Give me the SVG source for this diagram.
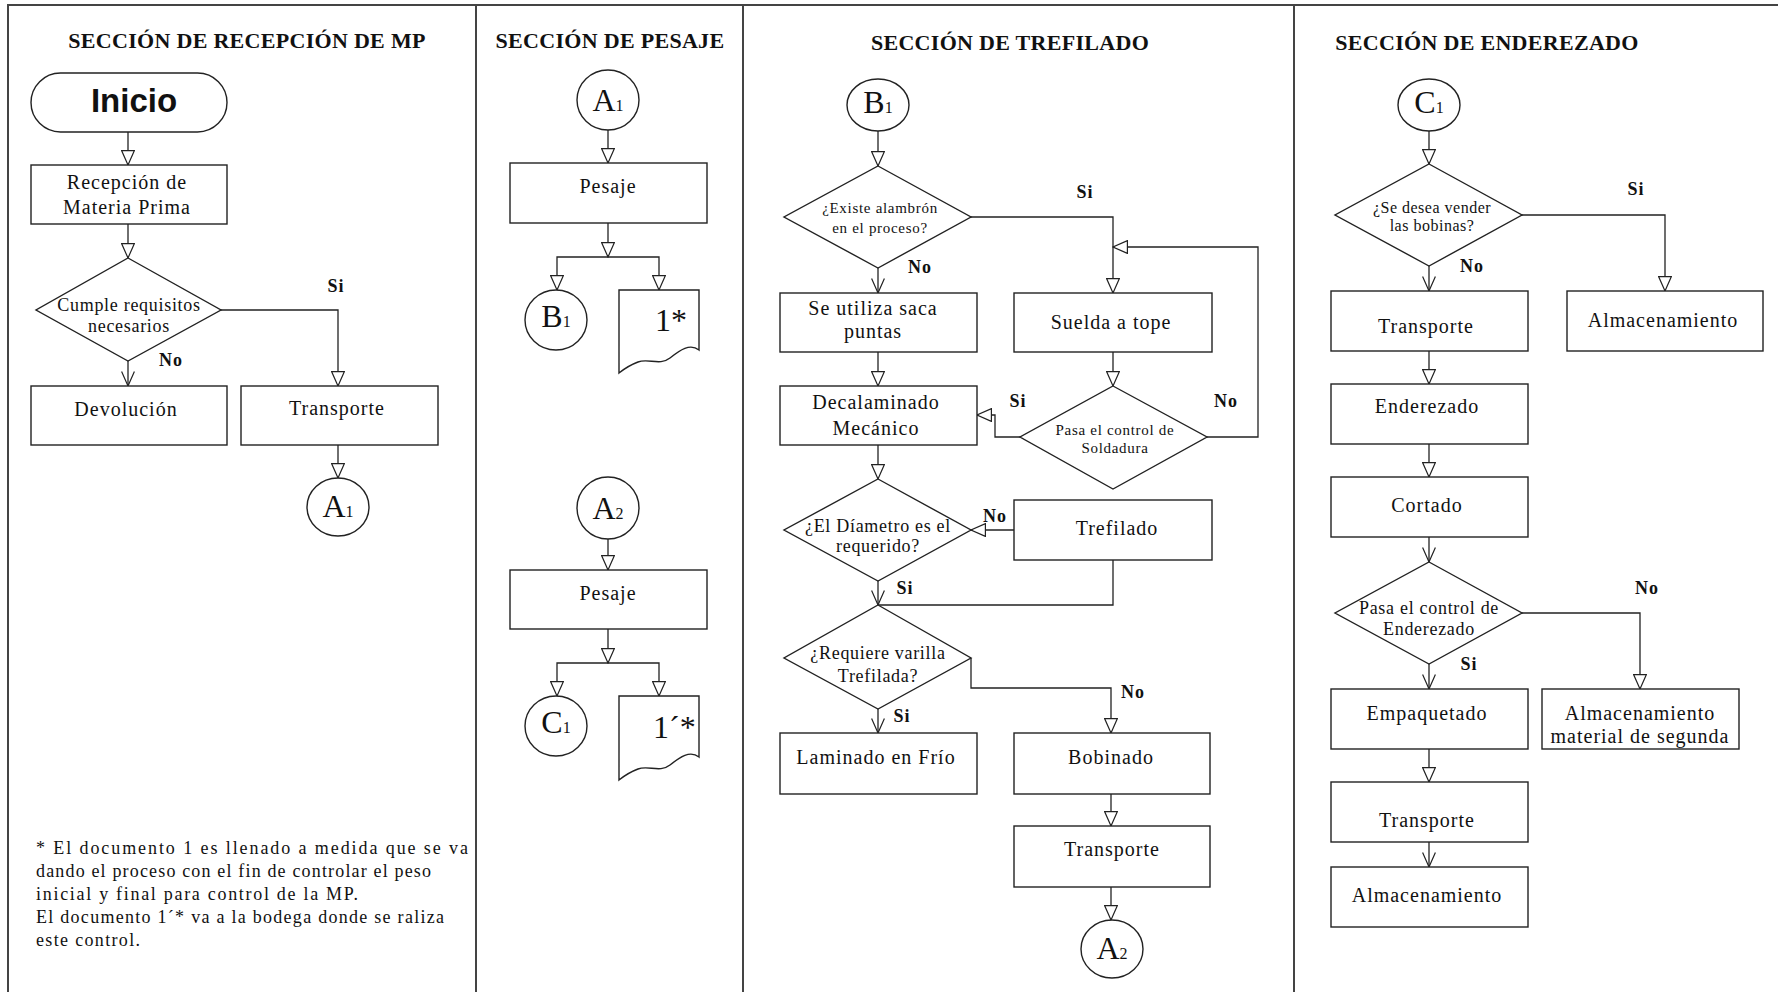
<svg xmlns="http://www.w3.org/2000/svg" width="1778" height="992" viewBox="0 0 1778 992">
  <style>
    .frame { fill: none; stroke: #444; stroke-width: 2; }
    .box { fill: #fff; stroke: #222; stroke-width: 1.4; }
    .ln { fill: none; stroke: #222; stroke-width: 1.3; }
    .arr { marker-end: url(#tri); }
    .vee { marker-end: url(#vee); }
    text { font-family: "Liberation Serif", "Times New Roman", serif; fill: #111; }
    .title { font-size: 22px; font-weight: bold; text-anchor: middle; letter-spacing: 0.3px; }
    .lbl { font-size: 20px; text-anchor: middle; letter-spacing: 1px; }
    .q18 { font-size: 18px; text-anchor: middle; letter-spacing: 0.7px; }
    .q15 { font-size: 15px; text-anchor: middle; letter-spacing: 0.7px; }
    .q16 { font-size: 16px; text-anchor: middle; letter-spacing: 0.5px; }
    .yn { font-size: 18px; font-weight: bold; text-anchor: middle; letter-spacing: 1px; }
    .con { text-anchor: middle; }
    .big { font-size: 32px; }
    .sub { font-size: 16px; }
    .note { font-size: 18px; }
    .start { font-family: "Liberation Sans", Arial, sans-serif; font-size: 33px; font-weight: bold; text-anchor: middle; }
  </style>
  <defs>
    <marker id="tri" viewBox="0 0 16 14" markerWidth="16" markerHeight="14" refX="15" refY="7" orient="auto" markerUnits="userSpaceOnUse">
      <path d="M0.6,0.6 L15,7 L0.6,13.4 Z" fill="#fff" stroke="#222" stroke-width="1.2"/>
    </marker>
    <marker id="vee" viewBox="0 0 16 14" markerWidth="16" markerHeight="14" refX="15" refY="7" orient="auto" markerUnits="userSpaceOnUse">
      <path d="M0.6,0.6 L15,7 L0.6,13.4" fill="none" stroke="#222" stroke-width="1.2"/>
    </marker>
  </defs>

  <rect x="0" y="0" width="1778" height="992" fill="#fff"/>

  <!-- page frame and section dividers -->
  <g id="frame">
    <path class="frame" d="M8,992 V5 H1778"/>
    <path class="frame" d="M476,5 V992 M743,5 V992 M1294,5 V992"/>
  </g>

  <!-- section titles -->
  <g id="titles">
    <text class="title" x="247" y="48">SECCIÓN DE RECEPCIÓN DE MP</text>
    <text class="title" x="610" y="48">SECCIÓN DE PESAJE</text>
    <text class="title" x="1010" y="50">SECCIÓN DE TREFILADO</text>
    <text class="title" x="1487" y="50">SECCIÓN DE ENDEREZADO</text>
  </g>

  <!-- connectors -->
  <g id="connectors">
    <!-- recepción -->
    <path class="ln arr" d="M128,132 V165"/>
    <path class="ln arr" d="M128,224 V258"/>
    <path class="ln vee" d="M128,361 V386"/>
    <path class="ln arr" d="M221,310 H338 V386"/>
    <path class="ln arr" d="M338,445 V478"/>
    <!-- pesaje -->
    <path class="ln arr" d="M608,130 V163"/>
    <path class="ln arr" d="M608,223 V257"/>
    <path class="ln arr" d="M608,257 H557 V290"/>
    <path class="ln arr" d="M608,257 H659 V290"/>
    <path class="ln arr" d="M608,539 V570"/>
    <path class="ln arr" d="M608,629 V663"/>
    <path class="ln arr" d="M608,663 H557 V696"/>
    <path class="ln arr" d="M608,663 H659 V696"/>
    <!-- trefilado -->
    <path class="ln arr" d="M878,131 V166"/>
    <path class="ln vee" d="M878,268 V293"/>
    <path class="ln arr" d="M971,217 H1113 V293"/>
    <path class="ln arr" d="M878,352 V386"/>
    <path class="ln arr" d="M1113,352 V386"/>
    <path class="ln arr" d="M1020,437 H995 V415 H977"/>
    <path class="ln arr" d="M1207,437 H1258 V247 H1113"/>
    <path class="ln arr" d="M878,445 V479"/>
    <path class="ln arr" d="M1014,530 H971"/>
    <path class="ln" d="M1113,560 V605 H878"/>
    <path class="ln vee" d="M878,581 V605"/>
    <path class="ln arr" d="M971,658 V688 H1111 V733"/>
    <path class="ln vee" d="M878,709 V733"/>
    <path class="ln arr" d="M1111,794 V826"/>
    <path class="ln arr" d="M1111,887 V920"/>
    <!-- enderezado -->
    <path class="ln arr" d="M1429,131 V164"/>
    <path class="ln vee" d="M1429,266 V291"/>
    <path class="ln arr" d="M1522,215 H1665 V291"/>
    <path class="ln arr" d="M1429,351 V384"/>
    <path class="ln arr" d="M1429,444 V477"/>
    <path class="ln vee" d="M1429,537 V562"/>
    <path class="ln arr" d="M1522,613 H1640 V689"/>
    <path class="ln vee" d="M1429,664 V689"/>
    <path class="ln arr" d="M1429,749 V782"/>
    <path class="ln vee" d="M1429,842 V867"/>
  </g>

  <!-- branch labels -->
  <g id="branch-labels">
    <text class="yn" x="336" y="292">Si</text>
    <text class="yn" x="171" y="366">No</text>
    <text class="yn" x="1085" y="198">Si</text>
    <text class="yn" x="920" y="273">No</text>
    <text class="yn" x="1018" y="407">Si</text>
    <text class="yn" x="1226" y="407">No</text>
    <text class="yn" x="995" y="522">No</text>
    <text class="yn" x="905" y="594">Si</text>
    <text class="yn" x="1133" y="698">No</text>
    <text class="yn" x="902" y="722">Si</text>
    <text class="yn" x="1636" y="195">Si</text>
    <text class="yn" x="1472" y="272">No</text>
    <text class="yn" x="1647" y="594">No</text>
    <text class="yn" x="1469" y="670">Si</text>
  </g>

  <!-- Sección de recepción de MP -->
  <g id="inicio">
    <rect class="box" x="31" y="73" width="196" height="59" rx="29.5"/>
    <text class="start" x="134" y="112">Inicio</text>
  </g>
  <g id="recepcion">
    <rect class="box" x="31" y="165" width="196" height="59"/>
    <text class="lbl" x="127" y="189">Recepción de</text>
    <text class="lbl" x="127" y="214">Materia Prima</text>
  </g>
  <g id="cumple-requisitos">
    <path class="box" d="M128,258 L221,310 L128,361 L36,310 Z"/>
    <text class="q18" x="129" y="311">Cumple requisitos</text>
    <text class="q18" x="129" y="332">necesarios</text>
  </g>
  <g id="devolucion">
    <rect class="box" x="31" y="386" width="196" height="59"/>
    <text class="lbl" x="126" y="416">Devolución</text>
  </g>
  <g id="transporte-mp">
    <rect class="box" x="241" y="386" width="197" height="59"/>
    <text class="lbl" x="337" y="415">Transporte</text>
  </g>
  <g id="a1-out">
    <ellipse class="box" cx="338" cy="507" rx="31" ry="29"/>
    <text class="con" x="338" y="517"><tspan class="big">A</tspan><tspan class="sub">1</tspan></text>
  </g>
  <g id="nota">
    <text class="note" x="36" y="854" textLength="432" lengthAdjust="spacing">* El documento 1 es llenado a medida que se va</text>
    <text class="note" x="36" y="877" textLength="395" lengthAdjust="spacing">dando el proceso con el fin de controlar el peso</text>
    <text class="note" x="36" y="900" textLength="322" lengthAdjust="spacing">inicial y final  para control de la MP.</text>
    <text class="note" x="36" y="923" textLength="408" lengthAdjust="spacing">El documento 1´* va a la bodega donde se raliza</text>
    <text class="note" x="36" y="946" textLength="104" lengthAdjust="spacing">este control.</text>
  </g>

  <!-- Sección de pesaje -->
  <g id="a1-in">
    <ellipse class="box" cx="608" cy="100" rx="31" ry="30"/>
    <text class="con" x="608" y="111"><tspan class="big">A</tspan><tspan class="sub">1</tspan></text>
  </g>
  <g id="pesaje-1">
    <rect class="box" x="510" y="163" width="197" height="60"/>
    <text class="lbl" x="608" y="193">Pesaje</text>
  </g>
  <g id="b1-out">
    <ellipse class="box" cx="556" cy="320" rx="31" ry="30"/>
    <text class="con" x="556" y="327"><tspan class="big" font-size="30">B</tspan><tspan class="sub">1</tspan></text>
  </g>
  <g id="doc-1">
    <path class="box" d="M619,373 V290 H699 V350 C690,343 680,350 670,358 C660,366 648,358 638,362 C630,365 624,369 619,373 Z"/>
    <text x="655" y="331" font-size="32">1*</text>
  </g>
  <g id="a2-in">
    <ellipse class="box" cx="608" cy="508" rx="31" ry="31"/>
    <text class="con" x="608" y="519"><tspan class="big">A</tspan><tspan class="sub">2</tspan></text>
  </g>
  <g id="pesaje-2">
    <rect class="box" x="510" y="570" width="197" height="59"/>
    <text class="lbl" x="608" y="600">Pesaje</text>
  </g>
  <g id="c1-out">
    <ellipse class="box" cx="556" cy="726" rx="31" ry="30"/>
    <text class="con" x="556" y="733"><tspan class="big" font-size="30">C</tspan><tspan class="sub">1</tspan></text>
  </g>
  <g id="doc-1b">
    <path class="box" d="M619,780 V696 H699 V757 C690,750 680,757 670,765 C660,773 648,765 638,769 C630,772 624,776 619,780 Z"/>
    <text x="653" y="738" font-size="32">1´*</text>
  </g>

  <!-- Sección de trefilado -->
  <g id="b1-in">
    <ellipse class="box" cx="878" cy="105" rx="31" ry="26"/>
    <text class="con" x="878" y="113"><tspan class="big">B</tspan><tspan class="sub">1</tspan></text>
  </g>
  <g id="existe-alambron">
    <path class="box" d="M878,166 L971,217 L878,268 L784,217 Z"/>
    <text class="q15" x="880" y="213">¿Existe alambrón</text>
    <text class="q15" x="880" y="233">en el proceso?</text>
  </g>
  <g id="saca-puntas">
    <rect class="box" x="780" y="293" width="197" height="59"/>
    <text class="lbl" x="873" y="315">Se utiliza saca</text>
    <text class="lbl" x="873" y="338">puntas</text>
  </g>
  <g id="suelda-tope">
    <rect class="box" x="1014" y="293" width="198" height="59"/>
    <text class="lbl" x="1111" y="329">Suelda a tope</text>
  </g>
  <g id="decalaminado">
    <rect class="box" x="780" y="386" width="197" height="59"/>
    <text class="lbl" x="876" y="409">Decalaminado</text>
    <text class="lbl" x="876" y="435">Mecánico</text>
  </g>
  <g id="control-soldadura">
    <path class="box" d="M1113,386 L1207,437 L1113,489 L1020,437 Z"/>
    <text class="q15" x="1115" y="435">Pasa el control de</text>
    <text class="q15" x="1115" y="453">Soldadura</text>
  </g>
  <g id="diametro">
    <path class="box" d="M878,479 L971,530 L878,581 L784,530 Z"/>
    <text class="q18" x="878" y="532">¿El Díametro es el</text>
    <text class="q18" x="878" y="552">requerido?</text>
  </g>
  <g id="trefilado">
    <rect class="box" x="1014" y="500" width="198" height="60"/>
    <text class="lbl" x="1117" y="535">Trefilado</text>
  </g>
  <g id="requiere-varilla">
    <path class="box" d="M878,605 L971,658 L878,709 L784,658 Z"/>
    <text class="q18" x="878" y="659">¿Requiere varilla</text>
    <text class="q18" x="878" y="682">Trefilada?</text>
  </g>
  <g id="laminado">
    <rect class="box" x="780" y="733" width="197" height="61"/>
    <text class="lbl" x="876" y="764">Laminado en Frío</text>
  </g>
  <g id="bobinado">
    <rect class="box" x="1014" y="733" width="196" height="61"/>
    <text class="lbl" x="1111" y="764">Bobinado</text>
  </g>
  <g id="transporte-tref">
    <rect class="box" x="1014" y="826" width="196" height="61"/>
    <text class="lbl" x="1112" y="856">Transporte</text>
  </g>
  <g id="a2-out">
    <ellipse class="box" cx="1112" cy="949" rx="31" ry="29"/>
    <text class="con" x="1112" y="959"><tspan class="big">A</tspan><tspan class="sub">2</tspan></text>
  </g>

  <!-- Sección de enderezado -->
  <g id="c1-in">
    <ellipse class="box" cx="1429" cy="105" rx="31" ry="26"/>
    <text class="con" x="1429" y="113"><tspan class="big">C</tspan><tspan class="sub">1</tspan></text>
  </g>
  <g id="vender-bobinas">
    <path class="box" d="M1429,164 L1522,215 L1429,266 L1335,215 Z"/>
    <text class="q16" x="1432" y="213">¿Se desea vender</text>
    <text class="q16" x="1432" y="231">las bobinas?</text>
  </g>
  <g id="transporte-end-1">
    <rect class="box" x="1331" y="291" width="197" height="60"/>
    <text class="lbl" x="1426" y="333">Transporte</text>
  </g>
  <g id="almacenamiento-bobinas">
    <rect class="box" x="1567" y="291" width="196" height="60"/>
    <text class="lbl" x="1663" y="327">Almacenamiento</text>
  </g>
  <g id="enderezado">
    <rect class="box" x="1331" y="384" width="197" height="60"/>
    <text class="lbl" x="1427" y="413">Enderezado</text>
  </g>
  <g id="cortado">
    <rect class="box" x="1331" y="477" width="197" height="60"/>
    <text class="lbl" x="1427" y="512">Cortado</text>
  </g>
  <g id="control-enderezado">
    <path class="box" d="M1429,562 L1522,613 L1429,664 L1335,613 Z"/>
    <text class="q18" x="1429" y="614">Pasa el control de</text>
    <text class="q18" x="1429" y="635">Enderezado</text>
  </g>
  <g id="empaquetado">
    <rect class="box" x="1331" y="689" width="197" height="60"/>
    <text class="lbl" x="1427" y="720">Empaquetado</text>
  </g>
  <g id="almacenamiento-segunda">
    <rect class="box" x="1542" y="689" width="197" height="60"/>
    <text class="lbl" x="1640" y="720">Almacenamiento</text>
    <text class="lbl" x="1640" y="743">material de segunda</text>
  </g>
  <g id="transporte-end-2">
    <rect class="box" x="1331" y="782" width="197" height="60"/>
    <text class="lbl" x="1427" y="827">Transporte</text>
  </g>
  <g id="almacenamiento-final">
    <rect class="box" x="1331" y="867" width="197" height="60"/>
    <text class="lbl" x="1427" y="902">Almacenamiento</text>
  </g>
</svg>
